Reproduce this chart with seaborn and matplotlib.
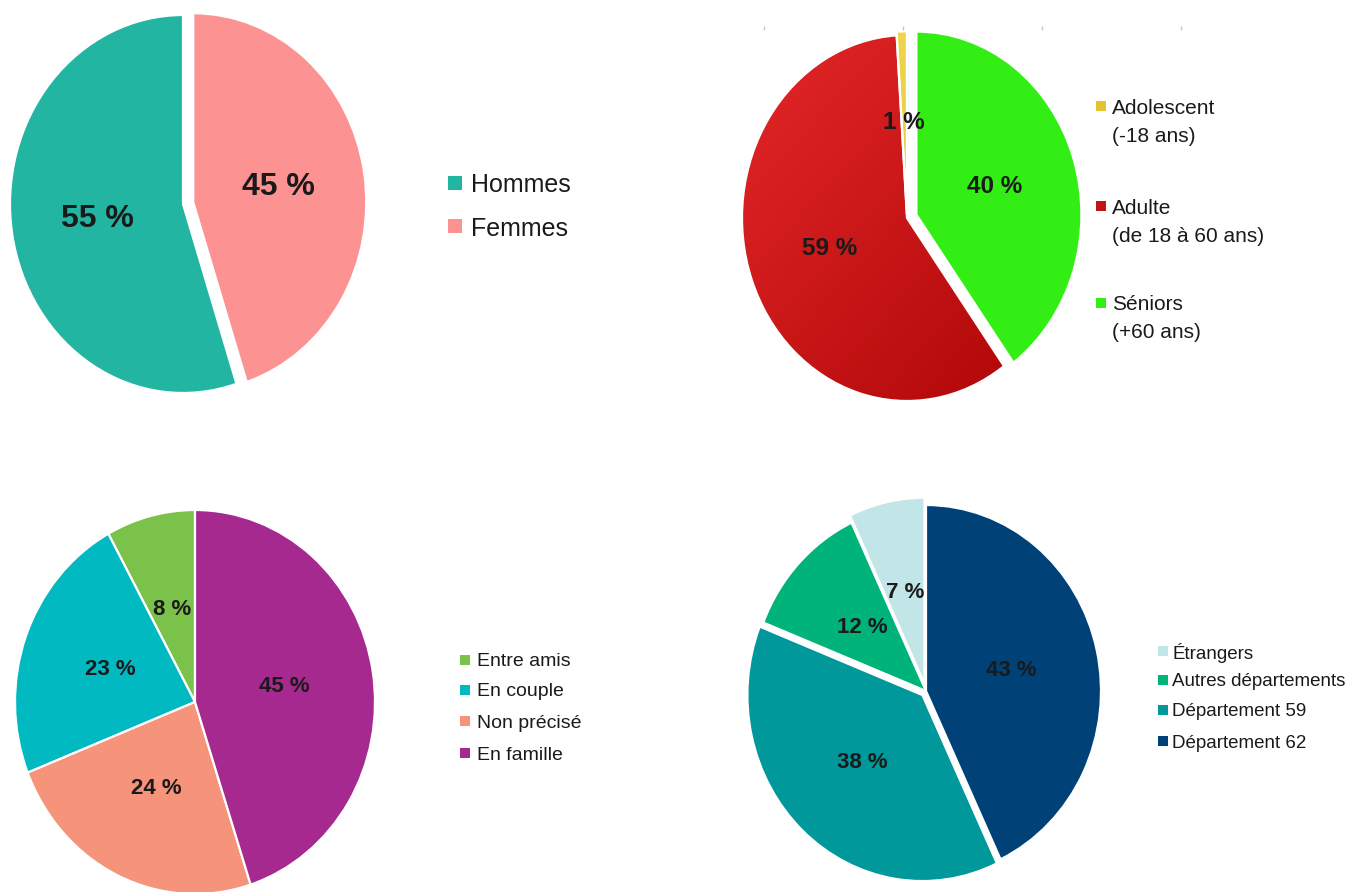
import numpy as np
import matplotlib
matplotlib.use("Agg")
import matplotlib.pyplot as plt
import seaborn as sns
from matplotlib.patches import Rectangle
from matplotlib.colors import LinearSegmentedColormap

# ---- data -------------------------------------------------------------
sexe_labels = ["Hommes", "Femmes"]
sexe_values = [55, 45]
sexe_colors = ["#21B5A2", "#FD9292"]

age_labels = ["Adolescent\n(-18 ans)", "Adulte\n(de 18 à 60 ans)", "Séniors\n(+60 ans)"]
age_values = [1, 59, 40]
age_colors = ["#F0D244", "#D41C1E", "#33EE15"]

groupe_labels = ["Entre amis", "En couple", "Non précisé", "En famille"]
groupe_values = [8, 23, 24, 45]
groupe_colors = ["#7BC24A", "#00B9C1", "#F5937B", "#A5298F"]

origine_labels = ["Étrangers", "Autres départements", "Département 59", "Département 62"]
origine_values = [7, 12, 38, 43]
origine_colors = ["#C2E5E7", "#00B378", "#00989B", "#004277"]

# ---- style ------------------------------------------------------------
sns.set_theme(style="white")
plt.rcParams["font.family"] = ["Liberation Sans", "DejaVu Sans"]

W, H = 1347, 892
fig = plt.figure(figsize=(W / 100, H / 100), dpi=100)
fig.patch.set_facecolor("white")
PAD = 1.12
TEXT = "#1A1A1A"


def px_axes(x0, y0, w, h):
    """Axes placed with pixel coordinates measured from the top-left corner."""
    return fig.add_axes([x0 / W, 1 - (y0 + h) / H, w / W, h / H])


def draw_pie(cx, cy, rx, ry, values, colors, explode, fontsize):
    ax = px_axes(cx - PAD * rx, cy - PAD * ry, 2 * PAD * rx, 2 * PAD * ry)
    wedges, _, autotexts = ax.pie(
        values, colors=colors, explode=explode, startangle=90,
        autopct=lambda p: f"{p:.0f} %", pctdistance=0.5,
        wedgeprops=dict(edgecolor="white", linewidth=1.6),
        textprops=dict(fontsize=fontsize, fontweight="bold", color=TEXT),
    )
    ax.set_aspect("auto")
    ax.set_xlim(-PAD, PAD)
    ax.set_ylim(-PAD, PAD)
    ax.axis("off")
    for w in wedges:
        w.set_clip_on(False)
    return ax, wedges, autotexts


def gradient_fill(ax, wedge, c_light, c_dark):
    cmap = LinearSegmentedColormap.from_list("shade", [c_light, c_dark])
    yy, xx = np.mgrid[1:-1:300j, -1:1:300j]
    grad = xx - yy
    im = ax.imshow(grad, cmap=cmap, extent=(-PAD, PAD, -PAD, PAD), origin="upper",
                   aspect="auto", zorder=wedge.get_zorder() - 0.1, interpolation="bilinear")
    im.set_clip_path(wedge)
    wedge.set_facecolor("none")
    ax.set_aspect("auto")
    ax.set_xlim(-PAD, PAD)
    ax.set_ylim(-PAD, PAD)


def draw_legend(x, rows, labels, colors, size, fontsize, dx, line_step=0):
    for y, lab, col in zip(rows, labels, colors):
        fig.add_artist(Rectangle((x / W, 1 - (y + size / 2) / H), size / W, size / H,
                                 transform=fig.transFigure, facecolor=col, edgecolor="none"))
        for k, line in enumerate(lab.split("\n")):
            fig.text((x + dx) / W, 1 - (y + k * line_step) / H, line, fontsize=fontsize,
                     color=TEXT, ha="left", va="center_baseline")


# ---- sexe -------------------------------------------------------------
draw_pie(183, 204, 173, 189, sexe_values, sexe_colors, [0, 0.06], 23)
draw_legend(448, [183, 226], sexe_labels, sexe_colors, 14, 18, 23)

# ---- âge --------------------------------------------------------------
ax_age, w_age, _ = draw_pie(907, 218, 165, 183, age_values, age_colors, [0.02, 0, 0.06], 17.5)
gradient_fill(ax_age, w_age[1], "#E8292B", "#A80303")
gradient_fill(ax_age, w_age[0], "#F7E15A", "#D8B522")
draw_legend(1096, [106, 206, 303], age_labels, ["#E2C431", "#C01416", age_colors[2]], 10, 15, 16, 28)

# faint tick marks above the age chart
ax_t = px_axes(764, 24, 417, 2)
ax_t.set_xlim(0, 3)
ax_t.set_xticks([0, 1, 2, 3])
ax_t.set_yticks([])
ax_t.tick_params(axis="x", bottom=True, length=3, width=1, color="#C8C8C8", labelbottom=False)
for s in ax_t.spines.values():
    s.set_visible(False)
ax_t.patch.set_alpha(0)

# ---- groupe -----------------------------------------------------------
draw_pie(195, 702, 180, 192, groupe_values, groupe_colors, None, 16)
draw_legend(460, [660, 690, 721, 753], groupe_labels, groupe_colors, 10, 14, 17)

# ---- origine ----------------------------------------------------------
draw_pie(926, 691, 175, 186, origine_values, origine_colors, [0.04, 0, 0.03, 0], 16)
draw_legend(1158, [651, 680, 710, 741], origine_labels, origine_colors, 9.5, 13.5, 14)

fig.savefig("out.png", dpi=100, facecolor="white")
